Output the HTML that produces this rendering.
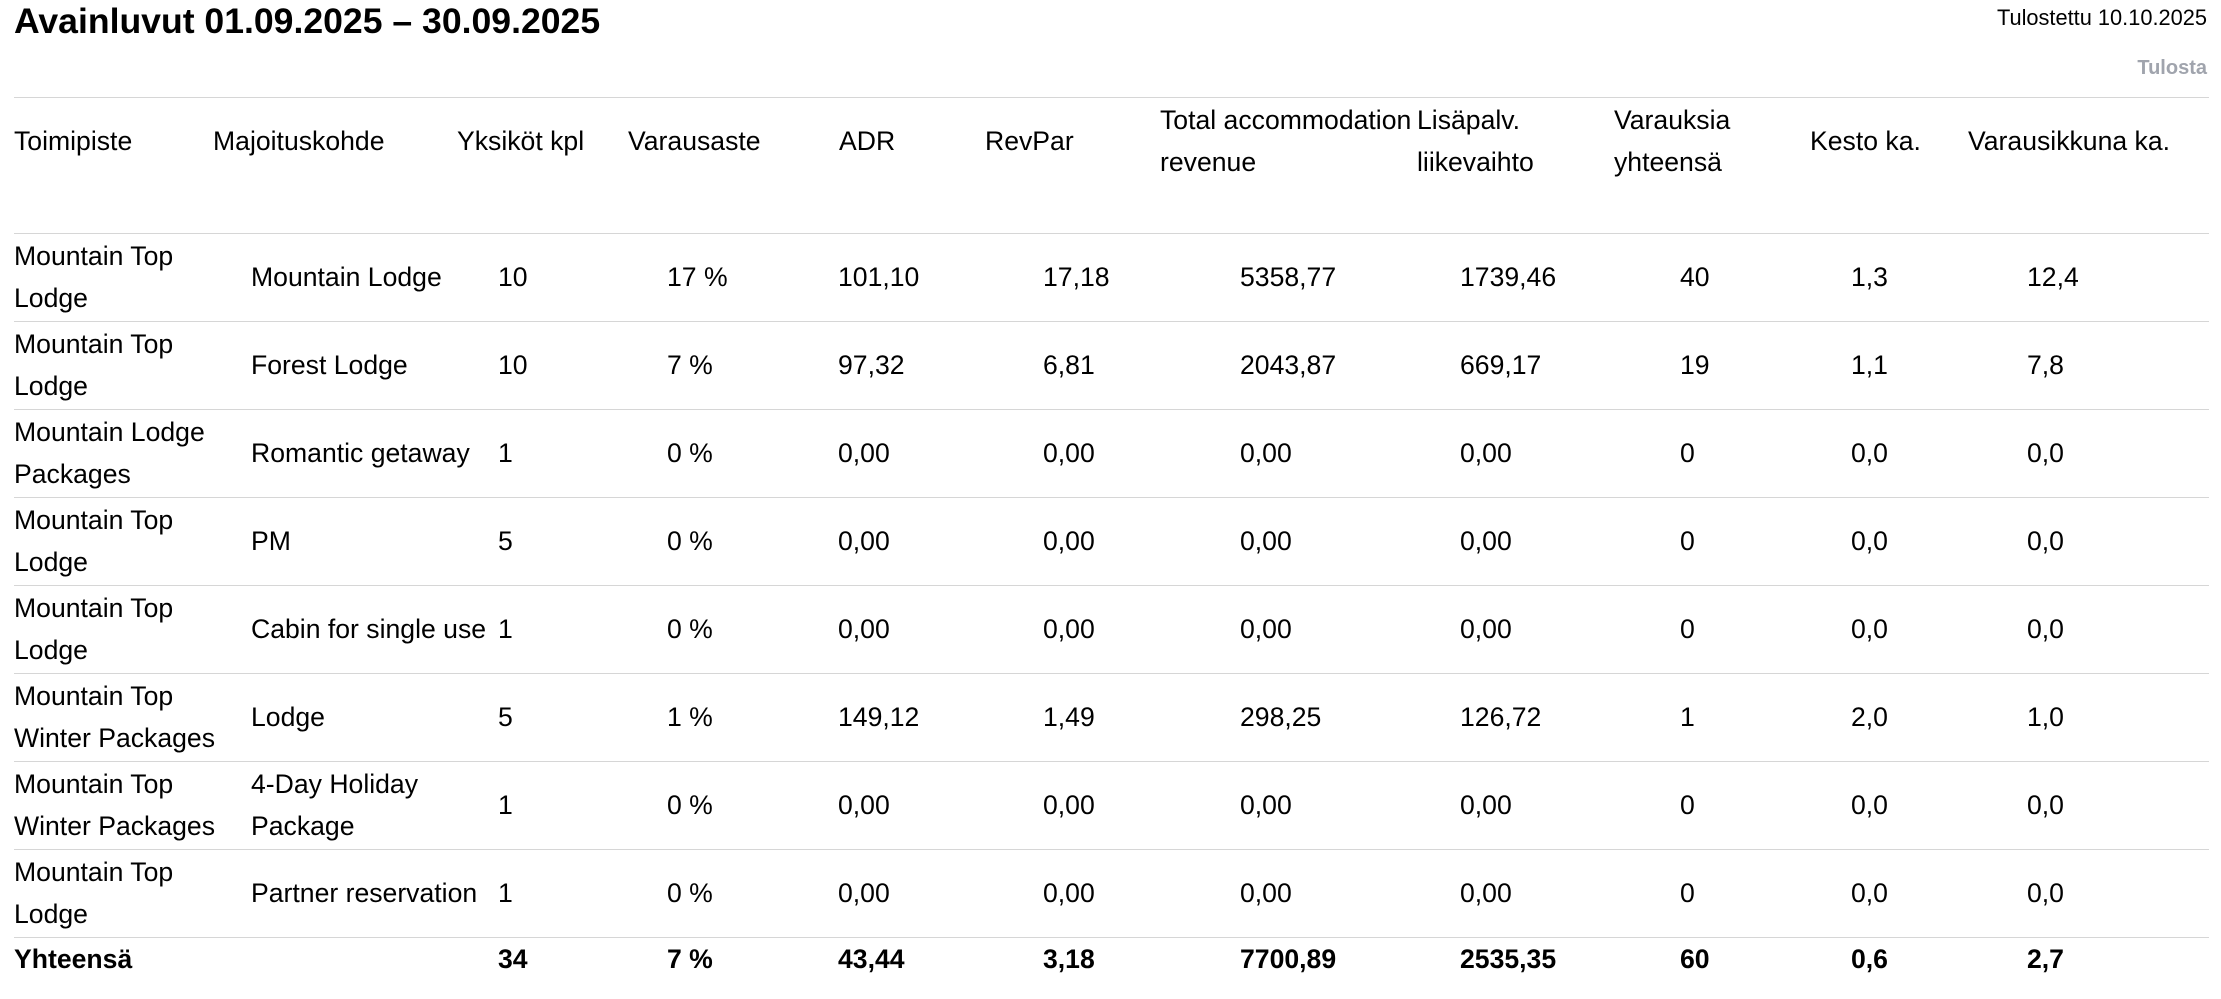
<!DOCTYPE html>
<html><head><meta charset="utf-8"><style>
html,body{margin:0;padding:0;background:#fff;width:2221px;height:999px;overflow:hidden}
body{font-family:"Liberation Sans",Arial,sans-serif;color:#000;position:relative}
.t{position:absolute;left:14px;top:0;font-size:35.6px;font-weight:bold;line-height:42px;white-space:nowrap}
.p{position:absolute;right:14px;top:5px;font-size:21.8px;line-height:26px}
.q{position:absolute;right:14px;top:57px;font-size:20px;font-weight:bold;color:#a0a4ad}
.ln{position:absolute;left:14px;width:2195px;height:1px;background:#d6d6d6}
.r{position:absolute;left:0;width:2221px;height:88px}
.c{position:absolute;top:0;height:100%;display:flex;align-items:center;font-size:26.6px;line-height:42px;white-space:nowrap}
.h{height:88px;top:97px}
.b .c{font-weight:bold}
</style></head><body>
<div class="t">Avainluvut 01.09.2025 – 30.09.2025</div>
<div class="p">Tulostettu 10.10.2025</div>
<div class="q">Tulosta</div>
<div class="ln" style="top:97px"></div>
<div class="r h" style="top:98px;height:86px">
<div class="c" style="left:14px">Toimipiste</div>
<div class="c" style="left:213px">Majoituskohde</div>
<div class="c" style="left:457px">Yksiköt kpl</div>
<div class="c" style="left:628px">Varausaste</div>
<div class="c" style="left:839px">ADR</div>
<div class="c" style="left:985px">RevPar</div>
<div class="c" style="left:1160px">Total accommodation<br>revenue</div>
<div class="c" style="left:1417px">Lisäpalv.<br>liikevaihto</div>
<div class="c" style="left:1614px">Varauksia<br>yhteensä</div>
<div class="c" style="left:1810px">Kesto ka.</div>
<div class="c" style="left:1968px">Varausikkuna ka.</div>
</div>
<div class="ln" style="top:233px"></div>
<div class="r" style="top:233px"><div class="c" style="left:14px">Mountain Top<br>Lodge</div><div class="c" style="left:251px">Mountain Lodge</div><div class="c" style="left:498px">10</div><div class="c" style="left:667px">17 %</div><div class="c" style="left:838px">101,10</div><div class="c" style="left:1043px">17,18</div><div class="c" style="left:1240px">5358,77</div><div class="c" style="left:1460px">1739,46</div><div class="c" style="left:1680px">40</div><div class="c" style="left:1851px">1,3</div><div class="c" style="left:2027px">12,4</div></div>
<div class="ln" style="top:321px"></div>
<div class="r" style="top:321px"><div class="c" style="left:14px">Mountain Top<br>Lodge</div><div class="c" style="left:251px">Forest Lodge</div><div class="c" style="left:498px">10</div><div class="c" style="left:667px">7 %</div><div class="c" style="left:838px">97,32</div><div class="c" style="left:1043px">6,81</div><div class="c" style="left:1240px">2043,87</div><div class="c" style="left:1460px">669,17</div><div class="c" style="left:1680px">19</div><div class="c" style="left:1851px">1,1</div><div class="c" style="left:2027px">7,8</div></div>
<div class="ln" style="top:409px"></div>
<div class="r" style="top:409px"><div class="c" style="left:14px">Mountain Lodge<br>Packages</div><div class="c" style="left:251px">Romantic getaway</div><div class="c" style="left:498px">1</div><div class="c" style="left:667px">0 %</div><div class="c" style="left:838px">0,00</div><div class="c" style="left:1043px">0,00</div><div class="c" style="left:1240px">0,00</div><div class="c" style="left:1460px">0,00</div><div class="c" style="left:1680px">0</div><div class="c" style="left:1851px">0,0</div><div class="c" style="left:2027px">0,0</div></div>
<div class="ln" style="top:497px"></div>
<div class="r" style="top:497px"><div class="c" style="left:14px">Mountain Top<br>Lodge</div><div class="c" style="left:251px">PM</div><div class="c" style="left:498px">5</div><div class="c" style="left:667px">0 %</div><div class="c" style="left:838px">0,00</div><div class="c" style="left:1043px">0,00</div><div class="c" style="left:1240px">0,00</div><div class="c" style="left:1460px">0,00</div><div class="c" style="left:1680px">0</div><div class="c" style="left:1851px">0,0</div><div class="c" style="left:2027px">0,0</div></div>
<div class="ln" style="top:585px"></div>
<div class="r" style="top:585px"><div class="c" style="left:14px">Mountain Top<br>Lodge</div><div class="c" style="left:251px">Cabin for single use</div><div class="c" style="left:498px">1</div><div class="c" style="left:667px">0 %</div><div class="c" style="left:838px">0,00</div><div class="c" style="left:1043px">0,00</div><div class="c" style="left:1240px">0,00</div><div class="c" style="left:1460px">0,00</div><div class="c" style="left:1680px">0</div><div class="c" style="left:1851px">0,0</div><div class="c" style="left:2027px">0,0</div></div>
<div class="ln" style="top:673px"></div>
<div class="r" style="top:673px"><div class="c" style="left:14px">Mountain Top<br>Winter Packages</div><div class="c" style="left:251px">Lodge</div><div class="c" style="left:498px">5</div><div class="c" style="left:667px">1 %</div><div class="c" style="left:838px">149,12</div><div class="c" style="left:1043px">1,49</div><div class="c" style="left:1240px">298,25</div><div class="c" style="left:1460px">126,72</div><div class="c" style="left:1680px">1</div><div class="c" style="left:1851px">2,0</div><div class="c" style="left:2027px">1,0</div></div>
<div class="ln" style="top:761px"></div>
<div class="r" style="top:761px"><div class="c" style="left:14px">Mountain Top<br>Winter Packages</div><div class="c" style="left:251px">4-Day Holiday<br>Package</div><div class="c" style="left:498px">1</div><div class="c" style="left:667px">0 %</div><div class="c" style="left:838px">0,00</div><div class="c" style="left:1043px">0,00</div><div class="c" style="left:1240px">0,00</div><div class="c" style="left:1460px">0,00</div><div class="c" style="left:1680px">0</div><div class="c" style="left:1851px">0,0</div><div class="c" style="left:2027px">0,0</div></div>
<div class="ln" style="top:849px"></div>
<div class="r" style="top:849px"><div class="c" style="left:14px">Mountain Top<br>Lodge</div><div class="c" style="left:251px">Partner reservation</div><div class="c" style="left:498px">1</div><div class="c" style="left:667px">0 %</div><div class="c" style="left:838px">0,00</div><div class="c" style="left:1043px">0,00</div><div class="c" style="left:1240px">0,00</div><div class="c" style="left:1460px">0,00</div><div class="c" style="left:1680px">0</div><div class="c" style="left:1851px">0,0</div><div class="c" style="left:2027px">0,0</div></div>
<div class="ln" style="top:937px"></div>
<div class="r b" style="top:938px;height:42px"><div class="c" style="left:14px">Yhteensä</div><div class="c" style="left:498px">34</div><div class="c" style="left:667px">7 %</div><div class="c" style="left:838px">43,44</div><div class="c" style="left:1043px">3,18</div><div class="c" style="left:1240px">7700,89</div><div class="c" style="left:1460px">2535,35</div><div class="c" style="left:1680px">60</div><div class="c" style="left:1851px">0,6</div><div class="c" style="left:2027px">2,7</div></div>
</body></html>
